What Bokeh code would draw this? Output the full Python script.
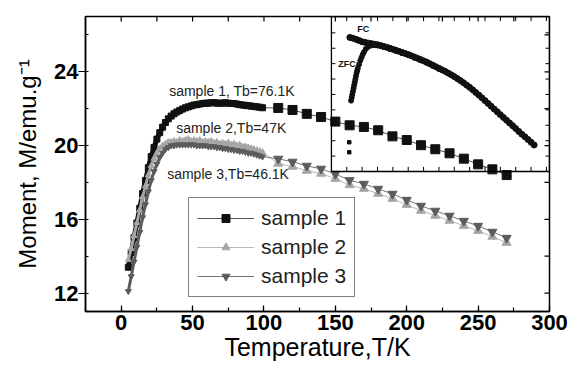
from bokeh.plotting import figure
from bokeh.models import (Range1d, LinearAxis, SingleIntervalTicker, Label,
                          Legend, LegendItem)
from bokeh.embed import file_html
from bokeh.resources import INLINE

FONT = "Liberation Sans"

# ---------------- data ----------------
t_dense = [5, 7, 9, 11, 13, 15, 17, 19, 21, 23, 25, 27, 29, 31, 33, 35, 37, 39,
           41, 43, 45, 47, 49, 51, 53, 55, 57, 59, 61, 63, 65, 67, 69, 71, 73,
           75, 77, 79, 81, 83, 85, 87, 89, 91, 93, 95, 97, 99]
t_sparse = [110, 120, 130, 140, 150, 160, 170, 180, 190, 200, 210, 220, 230,
            240, 250, 260, 270]

s1_dense = [13.4, 14.2, 15.0, 15.8, 16.6, 17.4, 18.1, 18.8, 19.4, 19.9, 20.35,
            20.7, 21.0, 21.25, 21.45, 21.6, 21.72, 21.82, 21.9, 21.98, 22.05,
            22.1, 22.15, 22.2, 22.22, 22.25, 22.28, 22.3, 22.3, 22.32, 22.33,
            22.3, 22.3, 22.3, 22.32, 22.3, 22.28, 22.28, 22.25, 22.22, 22.2,
            22.18, 22.16, 22.14, 22.12, 22.1, 22.08, 22.05]
s1_sparse = [22.04, 21.93, 21.72, 21.55, 21.30, 21.10, 21.01, 20.83, 20.5,
             20.30, 20.02, 19.80, 19.58, 19.29, 18.98, 18.71, 18.40]

s2_dense = [13.8, 14.4, 15.1, 15.8, 16.5, 17.2, 17.8, 18.4, 18.9, 19.3, 19.6,
            19.85, 20.0, 20.1, 20.2, 20.2, 20.25, 20.2, 20.3, 20.25, 20.3,
            20.35, 20.25, 20.3, 20.25, 20.3, 20.2, 20.25, 20.2, 20.25, 20.15,
            20.2, 20.1, 20.15, 20.1, 20.15, 20.05, 20.1, 20.0, 20.05, 19.95,
            19.95, 19.9, 19.85, 19.8, 19.75, 19.7, 19.65]
s2_sparse = [19.02, 18.86, 18.64, 18.48, 18.2, 17.86, 17.66, 17.39, 17.12,
             16.79, 16.47, 16.2, 15.93, 15.65, 15.38, 15.06, 14.73]

s3_dense = [12.1, 12.9, 13.7, 14.5, 15.3, 16.1, 16.8, 17.5, 18.1, 18.6, 19.0,
            19.35, 19.6, 19.8, 19.9, 20.0, 20.0, 20.05, 20.05, 20.05, 20.05,
            20.05, 20.05, 20.05, 20.0, 20.0, 20.0, 20.0, 19.95, 19.95, 19.95,
            19.9, 19.9, 19.85, 19.85, 19.8, 19.8, 19.75, 19.75, 19.7, 19.7,
            19.65, 19.6, 19.6, 19.55, 19.5, 19.45, 19.4]
s3_sparse = [19.28, 19.12, 18.9, 18.74, 18.46, 18.12, 17.92, 17.65, 17.38,
             17.05, 16.73, 16.46, 16.19, 15.91, 15.64, 15.32, 14.99]

series_names = ["sample 1", "sample 2", "sample 3"]
annotations = ["sample 1, Tb=76.1K", "sample 2,Tb=47K", "sample 3,Tb=46.1K"]

x_ticks_interval = 50
y_ticks_interval = 4
top_ticks = [0, 25, 50, 75, 100, 125, 150, 175, 200, 225, 250, 275]
right_ticks = [12, 14, 16, 18, 20, 22, 24, 26]

# inset (FC / ZFC), arbitrary units
fc_t = [5, 10, 15, 20, 25, 30, 35, 40, 45, 50, 55, 60, 65, 70, 75, 80, 85, 90,
        95, 100, 105, 110, 115, 120, 125, 130, 135, 140, 145, 150, 155, 160,
        165, 170, 175, 180, 185, 190, 195, 200, 205, 210, 215, 220, 225, 230,
        235, 240, 245, 250, 255, 260, 265, 270, 275, 280, 285, 290, 295, 300,
        305]
fc_m = [8.7, 8.65, 8.58, 8.5, 8.42, 8.38, 8.33, 8.3, 8.26, 8.23, 8.18, 8.12,
        8.06, 8.0, 7.93, 7.87, 7.8, 7.73, 7.66, 7.59, 7.51, 7.43, 7.35, 7.27,
        7.18, 7.1, 7.0, 6.9, 6.8, 6.7, 6.6, 6.5, 6.39, 6.28, 6.16, 6.03, 5.9,
        5.76, 5.61, 5.46, 5.3, 5.13, 4.96, 4.78, 4.6, 4.42, 4.24, 4.05, 3.87,
        3.69, 3.51, 3.33, 3.15, 2.97, 2.79, 2.6, 2.42, 2.25, 2.08, 1.9, 1.72]
zfc_t = [7, 8, 9, 10, 11, 12, 13, 14, 15, 16, 17, 18, 20, 22, 24, 26, 28, 31,
         35, 40, 45, 50, 55, 60, 70, 80, 90, 100, 110, 120, 130, 140, 150]
zfc_m = [4.6, 4.8, 5.0, 5.2, 5.4, 5.6, 5.8, 6.0, 6.2, 6.4, 6.55, 6.7, 6.95,
         7.2, 7.4, 7.6, 7.75, 7.95, 8.1, 8.18, 8.2, 8.18, 8.14, 8.08, 7.95,
         7.82, 7.68, 7.55, 7.38, 7.22, 7.05, 6.86, 6.66]
zfc_low_t = [4, 4]
zfc_low_m = [1.25, 1.9]
inset_x_range = (-25, 330)
inset_y_range = (0, 10.06)
inset_xticks = [0, 25, 50, 75, 100, 125, 150, 175, 200, 225, 250, 275, 300, 325]
inset_yticks = [1, 2, 3, 4, 5, 6, 7, 8, 9]

# ---------------- figure ----------------
X0, X1, Y0, Y1 = -25, 300, 11, 27
p = figure(width=573, height=369, output_backend="svg", toolbar_location=None,
           x_range=Range1d(X0, X1), y_range=Range1d(Y0, Y1),
           x_axis_type=None, y_axis_type=None,
           min_border_left=85, min_border_right=24, min_border_top=16,
           min_border_bottom=58)
p.outline_line_color = "black"
p.outline_line_width = 1.5
p.background_fill_color = "white"

def style_axis(ax):
    ax.axis_line_color = "black"
    ax.axis_line_width = 1.5
    ax.major_tick_line_color = "black"
    ax.minor_tick_line_color = "black"
    ax.major_tick_line_width = 1.2
    ax.minor_tick_line_width = 1.2
    ax.major_label_text_font = FONT
    ax.major_label_text_font_style = "bold"
    ax.major_label_text_font_size = "22px"
    ax.major_label_text_color = "black"
    ax.axis_label_text_font = FONT
    ax.axis_label_text_font_style = "normal"
    ax.axis_label_text_font_size = "24px"
    ax.axis_label_text_color = "black"

xb = LinearAxis(ticker=SingleIntervalTicker(interval=x_ticks_interval, num_minor_ticks=2),
                axis_label="Temperature,T/K")
style_axis(xb)
xb.axis_label_text_font_size = "25px"
xb.major_tick_in = 6; xb.major_tick_out = 0
xb.minor_tick_in = 4; xb.minor_tick_out = 0
xb.major_label_standoff = 3
xb.axis_label_standoff = 0
p.add_layout(xb, "below")

yl = LinearAxis(ticker=SingleIntervalTicker(interval=y_ticks_interval, num_minor_ticks=2),
                axis_label="Moment, M/emu.g\u207b\u00b9")
style_axis(yl)
yl.major_tick_in = 0; yl.major_tick_out = 7
yl.minor_tick_in = 3; yl.minor_tick_out = 0
yl.major_label_standoff = 0
yl.axis_label_standoff = 10
p.add_layout(yl, "left")

# ticks on the top and right frame edges (inward)
tick_y_len = 0.27   # ~5 px in y units
tick_x_len = 3.5    # ~5 px in x units
p.segment(x0=top_ticks, x1=top_ticks, y0=[Y1] * len(top_ticks),
          y1=[Y1 - tick_y_len] * len(top_ticks), line_color="black", line_width=1.2)
p.segment(x0=[X1] * len(right_ticks), x1=[X1 - tick_x_len] * len(right_ticks),
          y0=right_ticks, y1=right_ticks, line_color="black", line_width=1.2)

# ---------------- main series ----------------
styles = [
    dict(marker="square", color="#111111", line="#555555", band=5),
    dict(marker="triangle", color="#a6a6a6", line="#b8b8b8", band=3),
    dict(marker="inverted_triangle", color="#5c5c5c", line="#767676", band=3),
]
dense = [s1_dense, s2_dense, s3_dense]
sparse = [s1_sparse, s2_sparse, s3_sparse]
items = []
for name, st, d, s in zip(series_names, styles, dense, sparse):
    lr = p.line(t_dense + t_sparse, d + s, line_color=st["line"], line_width=1)
    # densely measured part: markers overlap into a continuous band
    p.line(t_dense, d, line_color=st["color"], line_width=st["band"])
    p.scatter(t_dense, d, marker=st["marker"], size=6, fill_color=st["color"],
              line_color=st["color"])
    sr = p.scatter(t_sparse, s, marker=st["marker"], size=9, fill_color=st["color"],
                   line_color=st["color"])
    items.append(LegendItem(label=name, renderers=[lr, sr]))

ann_pos = [(33.6, 22.97), (38.5, 20.96), (32.2, 18.46)]
for txt, (ax_, ay_) in zip(annotations, ann_pos):
    p.add_layout(Label(x=ax_, y=ay_, text=txt, text_font=FONT, text_font_size="14px",
                       text_baseline="middle", text_color="#222222"))

# ---------------- inset ----------------
fx_left, fy_bottom = 0.530, 0.4746   # inset position as fraction of frame
ix0, ix1 = inset_x_range
iy0, iy1 = inset_y_range
p.extra_x_ranges = {"ix": Range1d(ix1 - (ix1 - ix0) / (1 - fx_left), ix1)}
p.extra_y_ranges = {"iy": Range1d(iy1 - (iy1 - iy0) / (1 - fy_bottom), iy1)}
kw = dict(x_range_name="ix", y_range_name="iy")

p.quad(left=ix0, right=ix1, bottom=iy0, top=iy1, fill_color=None,
       line_color="black", line_width=1.3, **kw)
tl_y = 0.3
tl_x = 6.5
p.segment(x0=inset_xticks, x1=inset_xticks, y0=[iy0] * len(inset_xticks),
          y1=[iy0 + tl_y] * len(inset_xticks), line_color="black", line_width=1, **kw)
p.segment(x0=inset_xticks, x1=inset_xticks, y0=[iy1] * len(inset_xticks),
          y1=[iy1 - tl_y] * len(inset_xticks), line_color="black", line_width=1, **kw)
p.segment(x0=[ix0] * len(inset_yticks), x1=[ix0 + tl_x] * len(inset_yticks),
          y0=inset_yticks, y1=inset_yticks, line_color="black", line_width=1, **kw)
p.segment(x0=[ix1] * len(inset_yticks), x1=[ix1 - tl_x] * len(inset_yticks),
          y0=inset_yticks, y1=inset_yticks, line_color="black", line_width=1, **kw)

p.scatter(fc_t, fc_m, marker="circle", size=6, color="#111111", **kw)
p.scatter(zfc_t, zfc_m, marker="circle", size=5, color="#111111", **kw)
p.scatter(zfc_low_t, zfc_low_m, marker="square", size=3.5, color="#111111", **kw)
p.add_layout(Label(x=17, y=9.22, text="FC", text_font=FONT, text_font_size="9px",
                   text_font_style="bold", text_baseline="middle",
                   text_color="#111111", **kw))
p.add_layout(Label(x=-13.7, y=6.95, text="ZFC", text_font=FONT, text_font_size="9px",
                   text_font_style="bold", text_baseline="middle",
                   text_color="#111111", **kw))

# ---------------- legend ----------------
legend = Legend(items=items, location=(103, 14), orientation="vertical",
                border_line_color="black", border_line_width=1,
                background_fill_color="white", background_fill_alpha=1,
                padding=8, spacing=5, margin=0, glyph_width=57, glyph_height=20,
                label_height=20, label_standoff=7, label_text_font=FONT,
                label_text_font_size="21px", label_text_color="#222222")
p.add_layout(legend, "center")

open("out.html", "w").write(file_html(p, INLINE))
